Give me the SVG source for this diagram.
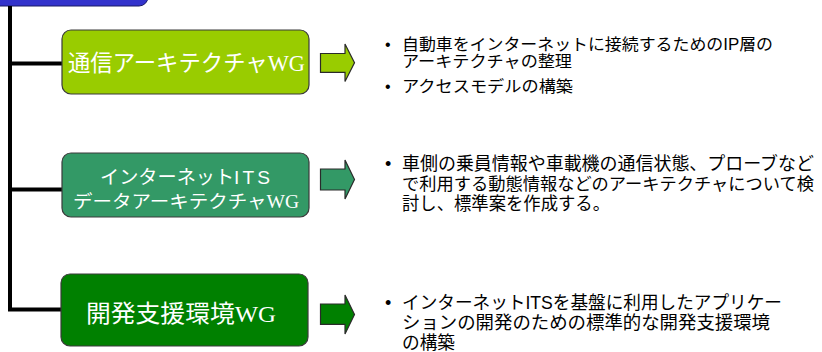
<svg xmlns="http://www.w3.org/2000/svg" width="822" height="352" viewBox="0 0 822 352">
  <style>
    .box { stroke: #3a3a3a; stroke-width: 1.2; }
    .arrow { stroke: #2a2a2a; stroke-width: 1.2; stroke-linejoin: miter; }
    .conn { stroke: #000; stroke-width: 4; fill: none; }
    .btxt { font-family: "Liberation Serif", "Noto Sans CJK JP", serif; fill: #fff; }
    .desc { font-family: "Liberation Sans", "Noto Sans CJK JP", sans-serif; fill: #000; }
  </style>
  <rect width="822" height="352" fill="#fff"/>

  <g id="top">
    <rect x="-12" y="-14" width="160" height="20" rx="9" fill="#3333CC" stroke="#1a1a66" stroke-width="1"/>
  </g>

  <g id="connectors">
    <path class="conn" d="M10,6 V309.5 H61"/>
    <line class="conn" x1="10" y1="63.5" x2="62" y2="63.5"/>
    <line class="conn" x1="10" y1="189.5" x2="62" y2="189.5"/>
  </g>

  <g id="node-wg1">
    <rect class="box" x="62" y="30" width="247" height="64" rx="9" fill="#99CC00"/>
    <text class="btxt" x="68" y="71" font-size="23" textLength="237" lengthAdjust="spacingAndGlyphs">通信アーキテクチャWG</text>
    <path class="arrow" fill="#99CC00" d="M320.5,53.5 H345 V44 L354.5,62.7 L345,81.5 V72.3 H320.5 Z"/>
    <g class="desc" font-size="16">
      <text x="385" y="50">•</text>
      <text x="402" y="50" textLength="371" lengthAdjust="spacingAndGlyphs">自動車をインターネットに接続するためのIP層の</text>
      <text x="402" y="67" textLength="170" lengthAdjust="spacingAndGlyphs">アーキテクチャの整理</text>
      <text x="385" y="92">•</text>
      <text x="402" y="92" textLength="171" lengthAdjust="spacingAndGlyphs">アクセスモデルの構築</text>
    </g>
  </g>

  <g id="node-wg2">
    <rect class="box" x="62" y="153" width="247" height="64" rx="9" fill="#339966"/>
    <text class="btxt" x="100" y="184" font-size="19" textLength="173" lengthAdjust="spacingAndGlyphs">インターネット<tspan font-family="'Liberation Sans', sans-serif" letter-spacing="3">ITS</tspan></text>
    <text class="btxt" x="73" y="208" font-size="18" textLength="226" lengthAdjust="spacingAndGlyphs">データアーキテクチャWG</text>
    <path class="arrow" fill="#339966" d="M320.5,169 H345 V160 L354.5,179.5 L345,199 V190 H320.5 Z"/>
    <g class="desc" font-size="18">
      <text x="385" y="170">•</text>
      <text x="402" y="170" textLength="412" lengthAdjust="spacingAndGlyphs">車側の乗員情報や車載機の通信状態、プローブなど</text>
      <text x="402" y="190" font-size="17" textLength="412" lengthAdjust="spacingAndGlyphs">で利用する動態情報などのアーキテクチャについて検</text>
      <text x="402" y="210" textLength="208" lengthAdjust="spacingAndGlyphs">討し、標準案を作成する。</text>
    </g>
  </g>

  <g id="node-wg3">
    <rect class="box" x="61" y="274" width="247" height="72" rx="9" fill="#008000"/>
    <text class="btxt" x="86" y="322" font-size="24" textLength="190" lengthAdjust="spacingAndGlyphs">開発支援環境WG</text>
    <path class="arrow" fill="#008000" d="M320.5,304 H345 V295 L354.5,314.5 L345,334 V324.3 H320.5 Z"/>
    <g class="desc" font-size="18">
      <text x="385" y="309">•</text>
      <text x="402" y="309" textLength="380" lengthAdjust="spacingAndGlyphs">インターネットITSを基盤に利用したアプリケー</text>
      <text x="402" y="329" textLength="368" lengthAdjust="spacingAndGlyphs">ションの開発のための標準的な開発支援環境</text>
      <text x="402" y="349" textLength="53" lengthAdjust="spacingAndGlyphs">の構築</text>
    </g>
  </g>
</svg>
